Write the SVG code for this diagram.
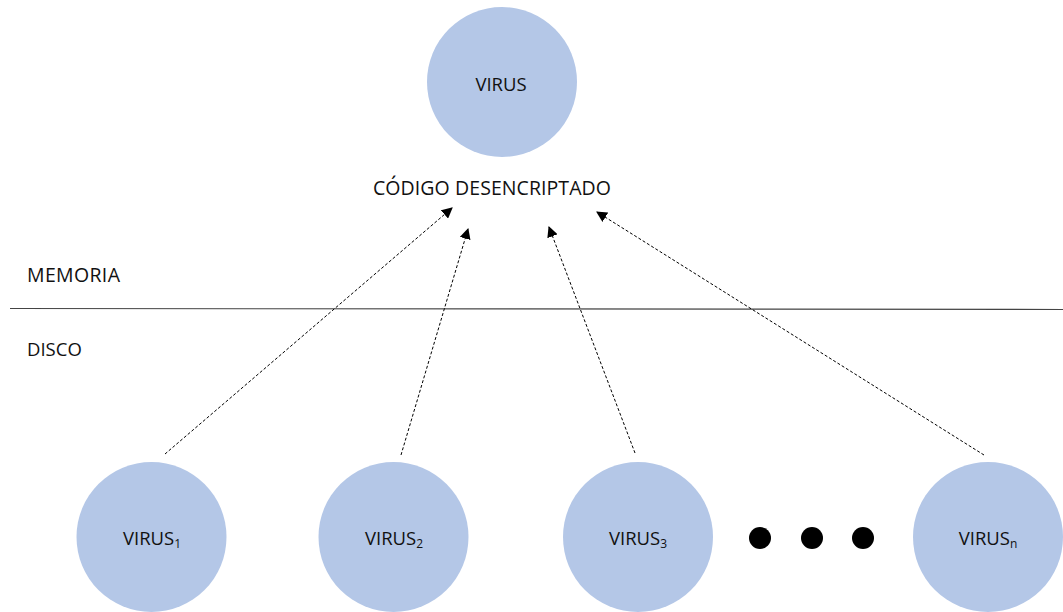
<svg xmlns="http://www.w3.org/2000/svg" width="1063" height="612" viewBox="0 0 1063 612">
  <style>
    .node { fill: #b4c7e7; }
    .lbl { font-family: "Open Sans", "Liberation Sans", sans-serif; font-size: 18.5px; fill: #111; }
    .big { font-size: 19.5px; }
    .mid { text-anchor: middle; }
    .sub { font-size: 12px; }
    .conn { stroke: #000; stroke-width: 1; stroke-dasharray: 3 2; fill: none; marker-end: url(#arrow); }
    .dot { fill: #000; }
  </style>
  <defs>
    <marker id="arrow" viewBox="0 0 10 10" refX="9" refY="5" markerWidth="11" markerHeight="11" markerUnits="userSpaceOnUse" orient="auto">
      <path d="M0,0 L10,5 L0,10 z" fill="#000"/>
    </marker>
  </defs>

  <rect width="1063" height="612" fill="#fff"/>

  <!-- memory / disk boundary -->
  <line x1="10" y1="308.5" x2="1063" y2="309.5" stroke="#444" stroke-width="1.2"/>
  <text class="lbl big" x="27" y="282" textLength="93">MEMORIA</text>
  <text class="lbl" x="27" y="356">DISCO</text>

  <g id="virus-top">
    <circle class="node" cx="502" cy="82" r="75"/>
    <text class="lbl mid" x="501" y="91">VIRUS</text>
  </g>

  <g id="decrypted-code">
    <text class="lbl big" x="373" y="195" textLength="238">CÓDIGO DESENCRIPTADO</text>
  </g>

  <g id="virus-1">
    <circle class="node" cx="151.5" cy="537" r="75"/>
    <text class="lbl mid" x="152" y="545">VIRUS<tspan class="sub" dy="3">1</tspan></text>
  </g>
  <g id="virus-2">
    <circle class="node" cx="393.5" cy="537" r="75"/>
    <text class="lbl mid" x="394" y="545">VIRUS<tspan class="sub" dy="3">2</tspan></text>
  </g>
  <g id="virus-3">
    <circle class="node" cx="638" cy="537" r="75"/>
    <text class="lbl mid" x="638" y="545">VIRUS<tspan class="sub" dy="3">3</tspan></text>
  </g>
  <g id="ellipsis">
    <circle class="dot" cx="760" cy="538" r="11"/>
    <circle class="dot" cx="812" cy="538" r="11"/>
    <circle class="dot" cx="863" cy="538" r="11"/>
  </g>
  <g id="virus-n">
    <circle class="node" cx="988" cy="537" r="75"/>
    <text class="lbl mid" x="988" y="545">VIRUS<tspan class="sub" dy="3">n</tspan></text>
  </g>

  <g id="connectors">
    <line class="conn" x1="165" y1="454" x2="452" y2="208"/>
    <line class="conn" x1="401" y1="455" x2="468" y2="229"/>
    <line class="conn" x1="635" y1="453" x2="549" y2="227"/>
    <line class="conn" x1="984" y1="455" x2="597" y2="212"/>
  </g>
</svg>
